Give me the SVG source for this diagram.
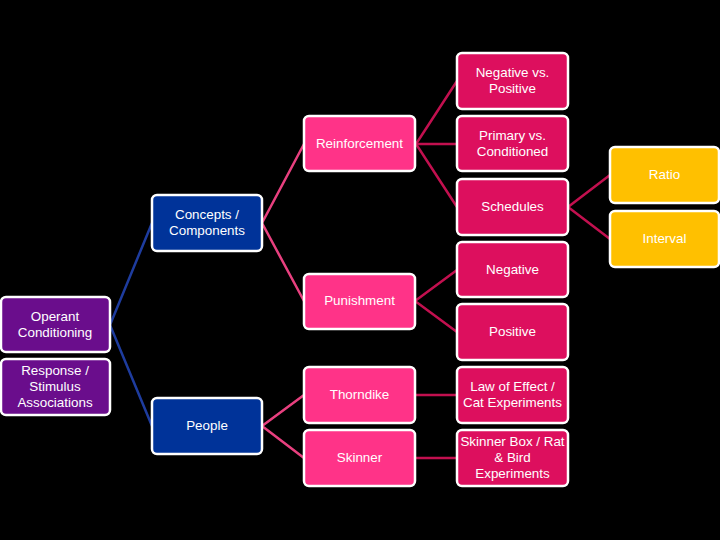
<svg xmlns="http://www.w3.org/2000/svg" width="720" height="540" viewBox="0 0 720 540">
<style>
.b{stroke:#fff;stroke-width:2.5}
.purple{fill:#6A0D8C}
.blue{fill:#003399}
.pink{fill:#FF3388}
.crim{fill:#DD0F5E}
.gold{fill:#FFC000}
text{font-family:"Liberation Sans",Arial,sans-serif;font-size:13.4px;fill:#fff;text-anchor:middle}
.c{fill:none;stroke-width:2.5}
.cb{stroke:#1E3C9E}
.cp{stroke:#E8407F}
.cc{stroke:#C2104F}
</style>
<rect width="720" height="540" fill="#000"/>
<g id="connectors">
<polyline class="c cb" points="152,223 110,325 152,426"/>
<polyline class="c cp" points="304,144 262,223 304,301"/>
<polyline class="c cp" points="304,395 262,426 304,458"/>
<polyline class="c cc" points="457,81 416,144 457,207"/>
<line class="c cc" x1="416" y1="144" x2="457" y2="144"/>
<polyline class="c cc" points="457,270 415,301 457,332"/>
<line class="c cc" x1="416" y1="395" x2="457" y2="395"/>
<line class="c cc" x1="416" y1="458" x2="457" y2="458"/>
<polyline class="c cc" points="610,175 568,207 610,239"/>
</g>
<g id="operant"><rect class="b purple" x="1" y="297" width="109" height="55" rx="5"/><text x="55" y="321">Operant</text><text x="55" y="337">Conditioning</text></g>
<g id="response"><rect class="b purple" x="1" y="359" width="109" height="56" rx="5"/><text x="55" y="375">Response /</text><text x="55" y="391">Stimulus</text><text x="55" y="407">Associations</text></g>
<g id="concepts"><rect class="b blue" x="152" y="195" width="110" height="56" rx="5"/><text x="207" y="219">Concepts /</text><text x="207" y="235">Components</text></g>
<g id="people"><rect class="b blue" x="152" y="398" width="110" height="56" rx="5"/><text x="207" y="430">People</text></g>
<g id="reinforcement"><rect class="b pink" x="304" y="116" width="111" height="55" rx="5"/><text x="359.5" y="148">Reinforcement</text></g>
<g id="punishment"><rect class="b pink" x="304" y="274" width="111" height="55" rx="5"/><text x="359.5" y="305">Punishment</text></g>
<g id="thorndike"><rect class="b pink" x="304" y="367" width="111" height="56" rx="5"/><text x="359.5" y="399">Thorndike</text></g>
<g id="skinner"><rect class="b pink" x="304" y="430" width="111" height="56" rx="5"/><text x="359.5" y="462">Skinner</text></g>
<g id="negpos"><rect class="b crim" x="457" y="53" width="111" height="56" rx="5"/><text x="512.5" y="77">Negative vs.</text><text x="512.5" y="93">Positive</text></g>
<g id="primary"><rect class="b crim" x="457" y="116" width="111" height="55" rx="5"/><text x="512.5" y="140">Primary vs.</text><text x="512.5" y="156">Conditioned</text></g>
<g id="schedules"><rect class="b crim" x="457" y="179" width="111" height="56" rx="5"/><text x="512.5" y="211">Schedules</text></g>
<g id="negative"><rect class="b crim" x="457" y="242" width="111" height="55" rx="5"/><text x="512.5" y="274">Negative</text></g>
<g id="positive"><rect class="b crim" x="457" y="304" width="111" height="56" rx="5"/><text x="512.5" y="336">Positive</text></g>
<g id="law"><rect class="b crim" x="457" y="367" width="111" height="56" rx="5"/><text x="512.5" y="391">Law of Effect /</text><text x="512.5" y="407">Cat Experiments</text></g>
<g id="skinnerbox"><rect class="b crim" x="457" y="430" width="111" height="56" rx="5"/><text x="512.5" y="446">Skinner Box / Rat</text><text x="512.5" y="462">&amp; Bird</text><text x="512.5" y="478">Experiments</text></g>
<g id="ratio"><rect class="b gold" x="610" y="147" width="109" height="56" rx="5"/><text x="664.5" y="179">Ratio</text></g>
<g id="interval"><rect class="b gold" x="610" y="211" width="109" height="56" rx="5"/><text x="664.5" y="243">Interval</text></g>
</svg>
